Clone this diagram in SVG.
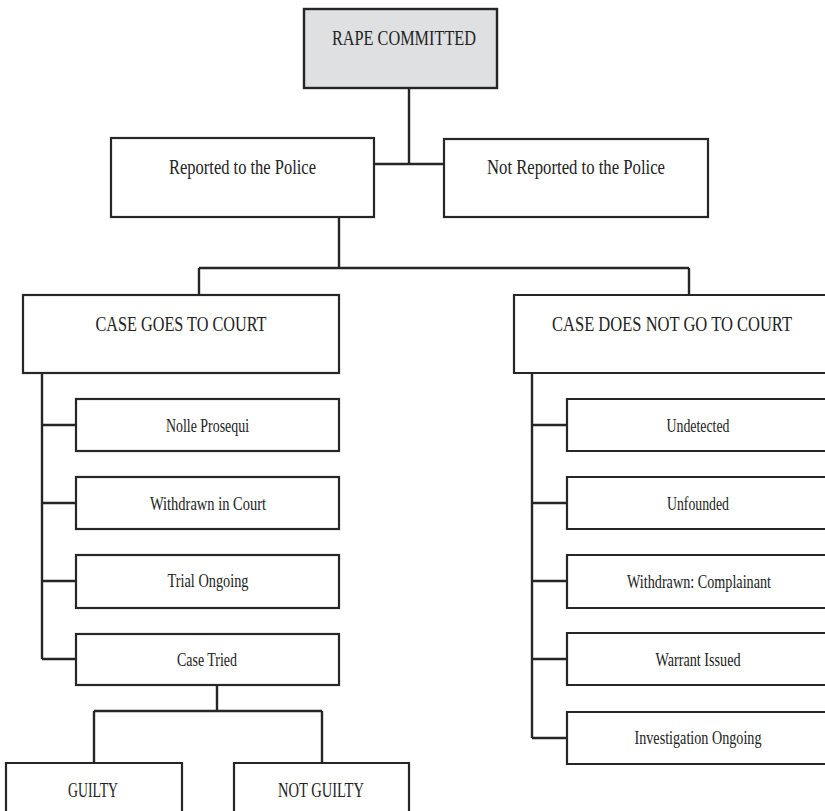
<svg xmlns="http://www.w3.org/2000/svg" width="825" height="811" viewBox="0 0 825 811">
<style>
.box{fill:#ffffff;stroke:#262626;stroke-width:2.2}
.root{fill:#dfe0e2;stroke:#262626;stroke-width:2.4}
.conn{fill:none;stroke:#262626;stroke-width:2.4;stroke-linecap:butt}
text{font-family:"Liberation Serif","DejaVu Serif",serif;fill:#222222;text-anchor:middle}
.t1{font-size:22px}
.t2{font-size:20px}
.t3{font-size:18px}
</style>
<rect width="825" height="811" fill="#ffffff"/>
<g id="connectors">
<path class="conn" d="M409,88 V164 M374,164 H444"/>
<path class="conn" d="M339,217 V268 M199,268 H689 M199,268 V295 M689,268 V295"/>
<path class="conn" d="M42,373 V659 M42,425 H76 M42,503 H76 M42,581 H76 M42,659 H76"/>
<path class="conn" d="M532,373 V738 M532,425 H567 M532,503 H567 M532,581 H567 M532,659 H567 M532,738 H567"/>
<path class="conn" d="M217,685 V711 M94,711 H322 M94,711 V763 M322,711 V763"/>
</g>
<g id="rape-committed"><rect class="root" x="304" y="9" width="193" height="79"/><text class="t1" x="404" y="45" textLength="144" lengthAdjust="spacingAndGlyphs">RAPE COMMITTED</text></g>
<g id="reported"><rect class="box" x="111" y="138" width="263" height="79"/><text class="t2" x="242.5" y="174" textLength="147" lengthAdjust="spacingAndGlyphs">Reported to the Police</text></g>
<g id="not-reported"><rect class="box" x="444" y="139" width="264" height="78"/><text class="t2" x="576" y="174" textLength="178" lengthAdjust="spacingAndGlyphs">Not Reported to the Police</text></g>
<g id="case-goes"><rect class="box" x="23" y="295" width="316" height="78"/><text class="t1" x="181" y="331" textLength="171" lengthAdjust="spacingAndGlyphs">CASE GOES TO COURT</text></g>
<g id="case-not"><path class="box" d="M826,295 H514 V373 H826"/><text class="t1" x="672" y="331" textLength="240" lengthAdjust="spacingAndGlyphs">CASE DOES NOT GO TO COURT</text></g>
<g id="nolle"><rect class="box" x="76" y="399" width="263" height="52"/><text class="t3" x="207.5" y="432" textLength="83" lengthAdjust="spacingAndGlyphs">Nolle Prosequi</text></g>
<g id="withdrawn-court"><rect class="box" x="76" y="477" width="263" height="52"/><text class="t3" x="208" y="510" textLength="116" lengthAdjust="spacingAndGlyphs">Withdrawn in Court</text></g>
<g id="trial-ongoing"><rect class="box" x="76" y="555" width="263" height="53"/><text class="t3" x="208" y="587" textLength="81" lengthAdjust="spacingAndGlyphs">Trial Ongoing</text></g>
<g id="case-tried"><rect class="box" x="76" y="634" width="263" height="51"/><text class="t3" x="207" y="666" textLength="60" lengthAdjust="spacingAndGlyphs">Case Tried</text></g>
<g id="guilty"><path class="box" d="M6,812 V763 H182 V812"/><text class="t2" x="93" y="797" textLength="50" lengthAdjust="spacingAndGlyphs">GUILTY</text></g>
<g id="not-guilty"><path class="box" d="M234,812 V763 H409 V812"/><text class="t2" x="321" y="797" textLength="86" lengthAdjust="spacingAndGlyphs">NOT GUILTY</text></g>
<g id="undetected"><path class="box" d="M826,399 H567 V451 H826"/><text class="t3" x="698" y="432" textLength="63" lengthAdjust="spacingAndGlyphs">Undetected</text></g>
<g id="unfounded"><path class="box" d="M826,477 H567 V529 H826"/><text class="t3" x="698" y="510" textLength="62" lengthAdjust="spacingAndGlyphs">Unfounded</text></g>
<g id="withdrawn-complainant"><path class="box" d="M826,555 H567 V608 H826"/><text class="t3" x="699" y="588" textLength="144" lengthAdjust="spacingAndGlyphs">Withdrawn: Complainant</text></g>
<g id="warrant"><path class="box" d="M826,633 H567 V685 H826"/><text class="t3" x="698" y="666" textLength="85" lengthAdjust="spacingAndGlyphs">Warrant Issued</text></g>
<g id="investigation"><path class="box" d="M826,712 H567 V764 H826"/><text class="t3" x="698" y="744" textLength="127" lengthAdjust="spacingAndGlyphs">Investigation Ongoing</text></g>
</svg>
